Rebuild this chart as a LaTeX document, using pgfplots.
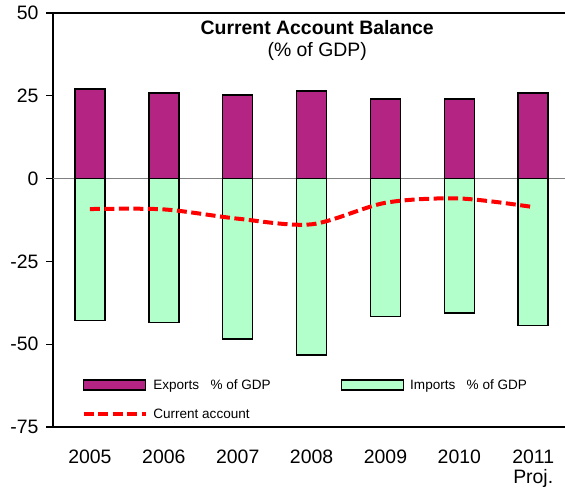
\documentclass[border=0pt]{standalone}
\usepackage{pgfplots}
\pgfplotsset{compat=1.18}
\usepackage{fontspec}
\setmainfont{Liberation Sans}
\definecolor{expc}{HTML}{B32483}
\definecolor{impc}{HTML}{B3FFCC}
\pgfplotsset{
  boxleg/.style={legend image code/.code={\draw[##1] (0bp,-5bp) rectangle (62bp,5bp);}},
  lineleg/.style={legend image code/.code={\draw[##1, line width=3.5bp] (0bp,0bp) -- (62bp,0bp);}},
}
\begin{document}
\begin{tikzpicture}
\useasboundingbox (-53bp,-61bp) rectangle (512bp,427bp);
\begin{axis}[
  at={(0,0)}, anchor=south west,
  scale only axis, width=512bp, height=414bp,
  xmin=-0.5, xmax=6.43, ymin=-75, ymax=50,
  axis lines*=left,
  axis line style={line width=1.3bp, black},
  ytick={-75,-50,-25,0,25,50},
  xtick={0,...,6},
  xticklabels={2005,2006,2007,2008,2009,2010,{2011\\Proj.}},
  xticklabel style={align=center, anchor=north, yshift=-13bp, font=\fontsize{19.5}{19.5}\selectfont},
  x tick style={draw=none},
  y tick style={line width=1.3bp, black},
  tick align=outside, major tick length=6.5bp,
  yticklabel style={font=\fontsize{19.5}{19.5}\selectfont, xshift=-4.5bp},
  /pgf/number format/assume math mode=true,
  extra y ticks={0}, extra y tick labels={},
  extra y tick style={grid=major, major grid style={gray, line width=1.4bp}, major tick length=0pt},
  legend columns=2,
  legend cell align=left,
  legend style={at={(rel axis cs:0.05,0.125)}, anchor=north west, draw=none, fill=none,
    font=\fontsize{13.6}{14}\selectfont, row sep=14bp,
    /tikz/every odd column/.append style={column sep=4bp},
    /tikz/every even column/.append style={column sep=68bp}},
]
\addplot[ybar, bar width=30bp, bar shift=0pt, fill=expc, draw=black, line width=1.5bp, boxleg]
  coordinates {(0,27.0) (1,25.9) (2,25.3) (3,26.4) (4,24.1) (5,24.1) (6,25.8)};
\addlegendentry{Exports\ \ \ \% of GDP}
\addplot[ybar, bar width=30bp, bar shift=0pt, fill=impc, draw=black, line width=1.5bp, boxleg]
  coordinates {(0,-42.8) (1,-43.4) (2,-48.4) (3,-53.3) (4,-41.6) (5,-40.6) (6,-44.4)};
\addlegendentry{Imports\ \ \ \% of GDP}
\addplot[red, line width=4bp, dash pattern=on 10bp off 4.5bp, smooth, tension=0.5, mark=none, lineleg]
  coordinates {(0,-9.2) (1,-9.3) (2,-12.1) (3,-13.8) (4,-7.3) (5,-6.0) (6,-8.6)};
\addlegendentry{Current account}
\draw[black, line width=1.3bp] (rel axis cs:0,1) -- (rel axis cs:1,1);
\node[align=center, anchor=north, inner sep=0pt, yshift=-7.5bp,
  font=\fontsize{19.5}{21.7}\selectfont] at (rel axis cs:0.516,1)
  {\textbf{Current Account Balance}\\(\% of GDP)};
\end{axis}
\end{tikzpicture}
\end{document}
